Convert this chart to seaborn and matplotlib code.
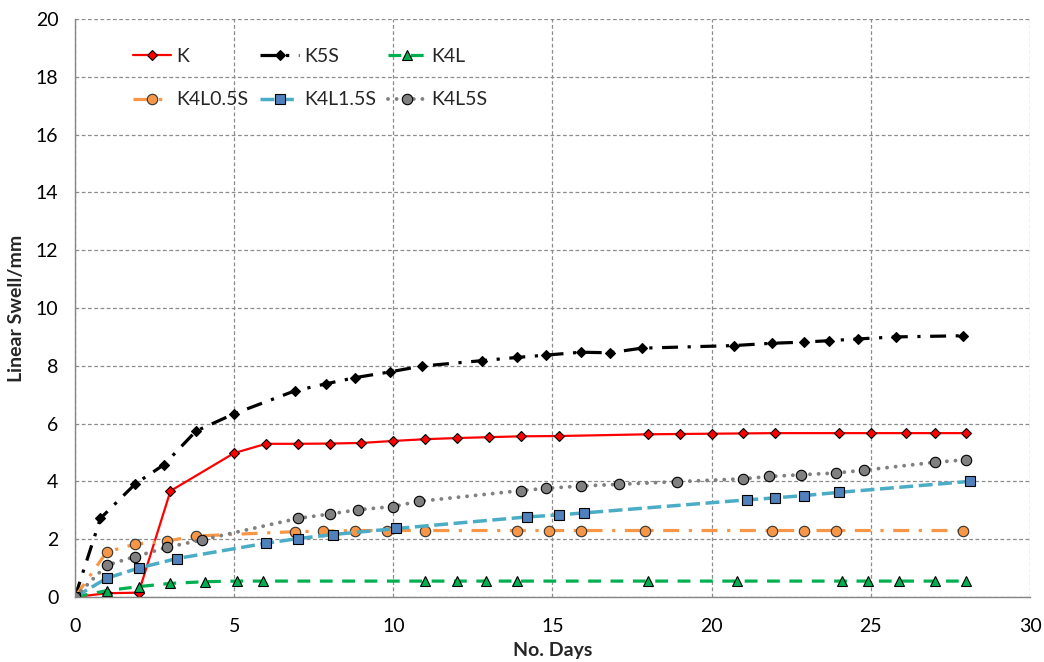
import matplotlib
matplotlib.use("Agg")
import matplotlib.pyplot as plt
import seaborn as sns

# ── 1. Data ─────────────────────────────────────────────────────────────────
k_days = [0, 1, 2, 3, 5, 6, 7, 8, 9, 10, 11, 12, 13, 14, 15.2, 18, 19, 20, 21, 22,
          24, 25, 26.1, 27, 28]
k_swell = [0, 0.13, 0.15, 3.67, 4.98, 5.3, 5.3, 5.31, 5.33, 5.4, 5.46, 5.5, 5.53,
           5.56, 5.57, 5.63, 5.64, 5.65, 5.66, 5.67, 5.67, 5.67, 5.67, 5.67, 5.67]

k5s_days = [0, 0.8, 1.9, 2.8, 3.8, 5.0, 6.9, 7.9, 8.8, 9.9, 10.9, 12.8, 13.9, 14.8,
            15.9, 16.8, 17.8, 20.7, 21.9, 22.9, 23.7, 24.6, 25.8, 27.9]
k5s_swell = [0, 2.72, 3.92, 4.58, 5.74, 6.34, 7.13, 7.38, 7.59, 7.79, 7.99, 8.18,
             8.29, 8.37, 8.47, 8.45, 8.61, 8.70, 8.78, 8.82, 8.87, 8.93, 9.0, 9.04]

k4l_days = [0, 1, 2, 3, 4.1, 5.1, 5.9, 11, 12, 12.9, 13.9, 18, 20.8, 24.1, 24.9,
            25.9, 27, 28]
k4l_swell = [0, 0.22, 0.36, 0.47, 0.53, 0.55, 0.55, 0.55, 0.55, 0.55, 0.55, 0.55,
             0.55, 0.55, 0.55, 0.55, 0.55, 0.55]

k4l05s_days = [0, 1, 1.9, 2.9, 3.8, 6.9, 7.8, 8.8, 9.8, 11, 13.9, 14.9, 15.9, 17.9,
               21.9, 22.9, 23.9, 27.9]
k4l05s_swell = [0, 1.56, 1.83, 1.94, 2.11, 2.26, 2.28, 2.3, 2.3, 2.3, 2.3, 2.3, 2.3,
                2.3, 2.3, 2.3, 2.3, 2.3]

k4l15s_days = [0, 1, 2, 3.2, 6, 7, 8.1, 10.1, 14.2, 15.2, 16, 21.1, 22, 22.9, 24, 28.1]
k4l15s_swell = [0, 0.65, 1.0, 1.33, 1.86, 2.02, 2.16, 2.37, 2.77, 2.84, 2.91, 3.36,
                3.43, 3.51, 3.62, 4.0]

k4l5s_days = [0, 1, 1.9, 2.9, 4, 7, 8, 8.9, 10, 10.8, 14, 14.8, 15.9, 17.1, 18.9, 21,
              21.8, 22.8, 23.9, 24.8, 27, 28]
k4l5s_swell = [0, 1.1, 1.4, 1.72, 1.98, 2.72, 2.87, 3.02, 3.13, 3.31, 3.68, 3.76,
               3.84, 3.9, 3.99, 4.09, 4.17, 4.23, 4.29, 4.39, 4.66, 4.75]

# ── 2. Style ────────────────────────────────────────────────────────────────
sns.set_style("white")
plt.rcParams["font.family"] = ["Lato", "DejaVu Sans"]

fig = plt.figure(figsize=(10.44, 6.62), dpi=100)
ax = fig.add_axes([0.0718, 0.0982, 0.9148, 0.8731])

edge = "black"

# ── 3. Series ───────────────────────────────────────────────────────────────
sns.lineplot(x=k_days, y=k_swell, ax=ax, color="#FF0000", lw=1.6,
             marker="D", markersize=5.5, markeredgecolor=edge, markeredgewidth=0.8,
             label="K")
sns.lineplot(x=k5s_days, y=k5s_swell, ax=ax, color="black", lw=2.3,
             linestyle=(0, (5, 3, 1, 3)), marker="D", markersize=5.5,
             markeredgecolor=edge, markeredgewidth=0.8, label="K5S")
sns.lineplot(x=k4l_days, y=k4l_swell, ax=ax, color="#00B050", lw=2.3,
             linestyle=(0, (4, 3)), marker="^", markersize=7,
             markeredgecolor=edge, markeredgewidth=0.8, label="K4L")
sns.lineplot(x=k4l05s_days, y=k4l05s_swell, ax=ax, color="#F79646", lw=2.3,
             linestyle=(0, (5, 3, 1, 3)), marker="o", markersize=7.5,
             markeredgecolor="#333333", markeredgewidth=0.8, label="K4L0.5S")
sns.lineplot(x=k4l15s_days, y=k4l15s_swell, ax=ax, color="#4BACC6", lw=2.5,
             linestyle=(0, (4, 1.6)), marker="s", markersize=7,
             markerfacecolor="#4F81BD", markeredgecolor=edge, markeredgewidth=0.8,
             label="K4L1.5S")
sns.lineplot(x=k4l5s_days, y=k4l5s_swell, ax=ax, color="#808080", lw=2.8,
             linestyle=(0, (0.01, 2.2)), marker="o", markersize=7.5,
             markeredgecolor=edge, markeredgewidth=0.8, label="K4L5S")
ax.get_lines()[-1].set_dash_capstyle("round")

# ── 4. Axes ─────────────────────────────────────────────────────────────────
ax.set_xlim(0, 30)
ax.set_ylim(0, 20)
ax.set_xticks(range(0, 31, 5))
ax.set_yticks(range(0, 21, 2))
ax.grid(True, linestyle=(0, (3, 2)), color="#8C8C8C", lw=0.9)
ax.set_axisbelow(True)
for side in ["top", "right"]:
    ax.spines[side].set_visible(False)
for side in ["left", "bottom"]:
    ax.spines[side].set_color("#868686")
    ax.spines[side].set_linewidth(1.0)
ax.tick_params(axis="both", direction="out", length=5, width=1, color="#868686",
               labelsize=14, pad=7, labelcolor="black")
ax.tick_params(axis="x", pad=10)

ax.set_xlabel("No. Days", fontsize=14, fontweight="bold", labelpad=5)
ax.set_ylabel("Linear Swell/mm", fontsize=14, fontweight="bold", labelpad=8)

# ── 5. Legend (3 columns, Excel order row by row) ───────────────────────────
handles, labels = ax.get_legend_handles_labels()
order = [0, 3, 1, 4, 2, 5]
ax.legend([handles[i] for i in order], [labels[i] for i in order],
          ncol=3, loc="upper left", bbox_to_anchor=(0.042, 0.98), frameon=False,
          fontsize=14, labelspacing=1.35, columnspacing=0.6, handlelength=2.0,
          handletextpad=0.25)

plt.savefig("out.png", dpi=100)
plt.close()
